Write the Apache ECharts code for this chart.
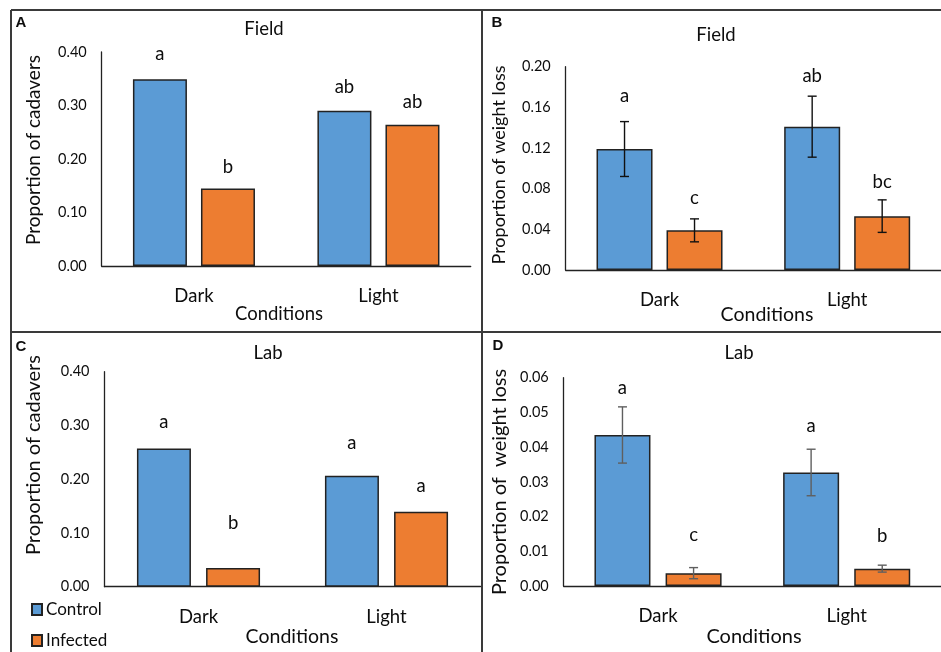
<!DOCTYPE html>
<html>
<head>
<meta charset="utf-8">
<script src="https://cdn.jsdelivr.net/npm/echarts@6/dist/echarts.min.js"></script>
<style>
html, body { margin: 0; padding: 0; background: #fff; }
#chart { width: 941px; height: 652px; }
</style>
</head>
<body>
<div id="chart"></div>
<script>
// data
var categories = ['Dark', 'Light'];
var groups = ['Control', 'Infected'];

// A: field, proportion of cadavers
var fieldCadControl = [0.349, 0.290];
var fieldCadInfected = [0.145, 0.264];
var fieldCadLetControl = ['a', 'ab'];
var fieldCadLetInfected = ['b', 'ab'];
var fieldCadLetAtControl = [0.396, 0.335];
var fieldCadLetAtInfected = [0.185, 0.307];

// B: field, proportion of weight loss (mean, error)
var fieldWtControl = [0.119, 0.141];
var fieldWtControlErr = [0.027, 0.030];
var fieldWtInfected = [0.039, 0.053];
var fieldWtInfectedErr = [0.0113, 0.016];
var fieldWtLetControl = ['a', 'ab'];
var fieldWtLetInfected = ['c', 'bc'];
var fieldWtLetAtControl = [0.171, 0.191];
var fieldWtLetAtInfected = [0.0708, 0.0866];

// C: lab, proportion of cadavers
var labCadControl = [0.257, 0.2065];
var labCadInfected = [0.035, 0.1395];
var labCadLetControl = ['a', 'a'];
var labCadLetInfected = ['b', 'a'];
var labCadLetAtControl = [0.307, 0.268];
var labCadLetAtInfected = [0.1185, 0.188];

// D: lab, proportion of weight loss
var labWtControl = [0.0435, 0.0327];
var labWtControlErr = [0.0081, 0.0067];
var labWtInfected = [0.0037, 0.0050];
var labWtInfectedErr = [0.0016, 0.0010];
var labWtLetControl = ['a', 'a'];
var labWtLetInfected = ['c', 'b'];
var labWtLetAtControl = [0.0569, 0.0461];
var labWtLetAtInfected = [0.0147, 0.0144];

var FONT = 'Lato, "Open Sans", sans-serif';
var INK = '#0d0d0d';
var colors = ['#5b9bd5', '#ed7d31'];

var chart = echarts.init(document.getElementById('chart'));

// panel layout (pixels)
var panels = [
    {grid: {left: 101.7, top: 52, width: 369, height: 214}, max: 0.4, interval: 0.1,
     barW: 54, gap: 0.26, errColor: '#000',
     sets: [[fieldCadControl, null, fieldCadLetControl, fieldCadLetAtControl],
	    [fieldCadInfected, null, fieldCadLetInfected, fieldCadLetAtInfected]]},
    {grid: {left: 565.7, top: 66.7, width: 385.7, height: 203.3}, max: 0.2, interval: 0.04,
     barW: 56, gap: 0.25, errColor: '#111',
     sets: [[fieldWtControl, fieldWtControlErr, fieldWtLetControl, fieldWtLetAtControl],
	    [fieldWtInfected, fieldWtInfectedErr, fieldWtLetInfected, fieldWtLetAtInfected]]},
    {grid: {left: 104.5, top: 371.7, width: 376, height: 215}, max: 0.4, interval: 0.1,
     barW: 54, gap: 0.28, errColor: '#000',
     sets: [[labCadControl, null, labCadLetControl, labCadLetAtControl],
	    [labCadInfected, null, labCadLetInfected, labCadLetAtInfected]]},
    {grid: {left: 563.7, top: 377.7, width: 388, height: 208.3}, max: 0.06, interval: 0.01,
     barW: 56, gap: 0.27, errColor: '#5f5f5f',
     sets: [[labWtControl, labWtControlErr, labWtLetControl, labWtLetAtControl],
	    [labWtInfected, labWtInfectedErr, labWtLetInfected, labWtLetAtInfected]]}
];

/* error bar + significance letter drawn over one bar series */
function annotate(letters, side, barW, gap, errColor)
{
    return function (params, api) {
	var i = api.value(0);
	var v = api.value(1);
	var e = api.value(2);
	var dx = side * barW * (1 + gap) / 2;
	var base = api.coord([i, v]);
	var x = base[0] + dx;
	var kids = [];
	if (e > 0) {
	    var yt = api.coord([i, v + e])[1];
	    var yb = api.coord([i, v - e])[1];
	    var st = {stroke: errColor, lineWidth: 1.4};
	    kids.push({type: 'line', shape: {x1: x, y1: yt, x2: x, y2: yb}, style: st});
	    kids.push({type: 'line', shape: {x1: x - 4.5, y1: yt, x2: x + 4.5, y2: yt}, style: st});
	    kids.push({type: 'line', shape: {x1: x - 4.5, y1: yb, x2: x + 4.5, y2: yb}, style: st});
	}
	var ly = api.coord([i, api.value(3)])[1];
	kids.push({type: 'text', x: x, y: ly, style: {
	    text: letters[params.dataIndex], textAlign: 'center', textVerticalAlign: 'middle',
	    font: '18.5px ' + FONT, fill: INK}});
	return {type: 'group', children: kids};
    };
}

var grids = [], xAxes = [], yAxes = [], series = [];

panels.forEach(function (p, k) {
    grids.push(p.grid);
    xAxes.push({
	type: 'category', gridIndex: k, data: categories,
	axisLine: {lineStyle: {color: '#222', width: 1.3}},
	axisTick: {show: false},
	axisLabel: {color: INK, fontFamily: FONT, fontSize: 18.5, margin: 21}
    });
    yAxes.push({
	type: 'value', gridIndex: k, min: 0, max: p.max, interval: p.interval,
	axisLine: {show: true, lineStyle: {color: '#222', width: 1.3}},
	axisTick: {show: false},
	splitLine: {show: false},
	axisLabel: {color: INK, fontFamily: FONT, fontSize: 14.5, margin: 15,
		    formatter: function (v) { return v.toFixed(2); }}
    });
    p.sets.forEach(function (s, j) {
	series.push({
	    name: groups[j], type: 'bar', xAxisIndex: k, yAxisIndex: k,
	    data: s[0], barWidth: p.barW, barGap: (p.gap * 100) + '%',
	    itemStyle: {color: colors[j], borderColor: '#222', borderWidth: 1.5},
	    emphasis: {disabled: true}
	});
	series.push({
	    type: 'custom', xAxisIndex: k, yAxisIndex: k, z: 5, clip: false,
	    renderItem: annotate(s[2], j === 0 ? -1 : 1, p.barW, p.gap, p.errColor),
	    data: s[0].map(function (v, i) {
		return [i, v, s[1] ? s[1][i] : 0, s[3][i]];
	    })
	});
    });
});

function label(text, x, y, size, rot, weight, family)
{
    return {type: 'text', x: x, y: y, rotation: rot || 0, z: 10, style: {
	text: text, textAlign: 'center', textVerticalAlign: 'middle',
	font: (weight || 'normal') + ' ' + size + 'px ' + (family || FONT), fill: INK}};
}

function legendItem(name, top)
{
    return {
	data: [name], left: 26, top: top,
	itemWidth: 10, itemHeight: 11, icon: 'rect', itemGap: 0,
	textStyle: {color: INK, fontFamily: FONT, fontSize: 17, padding: [0, 0, 0, -1]}
    };
}

var frame = {stroke: '#3a3a3a', lineWidth: 2};

chart.setOption({
    animation: false,
    backgroundColor: '#fff',
    grid: grids,
    xAxis: xAxes,
    yAxis: yAxes,
    series: series,
    legend: [legendItem(groups[0], 596), legendItem(groups[1], 627)],
    graphic: [
	{type: 'line', shape: {x1: 11, y1: 10, x2: 941, y2: 10}, style: frame},
	{type: 'line', shape: {x1: 11, y1: 10, x2: 11, y2: 652}, style: frame},
	{type: 'line', shape: {x1: 482, y1: 10, x2: 482, y2: 652}, style: frame},
	{type: 'line', shape: {x1: 11, y1: 332, x2: 941, y2: 332}, style: frame},
	label('A', 21, 23, 15, 0, 'bold', '"Liberation Sans", Arial'),
	label('B', 497, 23, 15, 0, 'bold', '"Liberation Sans", Arial'),
	label('C', 21, 347, 15, 0, 'bold', '"Liberation Sans", Arial'),
	label('D', 498, 346, 15, 0, 'bold', '"Liberation Sans", Arial'),
	label('Field', 264, 29, 18.5),
	label('Field', 716, 35, 18.5),
	label('Lab', 268, 353, 18.5),
	label('Lab', 739, 353, 18.5),
	label('Proportion of cadavers', 34, 150, 19, Math.PI / 2),
	label('Proportion of weight loss', 499, 165, 18, Math.PI / 2),
	label('Proportion of cadavers', 34, 455, 20, Math.PI / 2),
	label('Proportion of  weight loss', 500, 482, 20, Math.PI / 2),
	label('Conditions', 279, 314, 18.5),
	label('Conditions', 767, 315, 19.5),
	label('Conditions', 292, 637, 19.5),
	label('Conditions', 754, 637, 20)
    ]
});
</script>
</body>
</html>
